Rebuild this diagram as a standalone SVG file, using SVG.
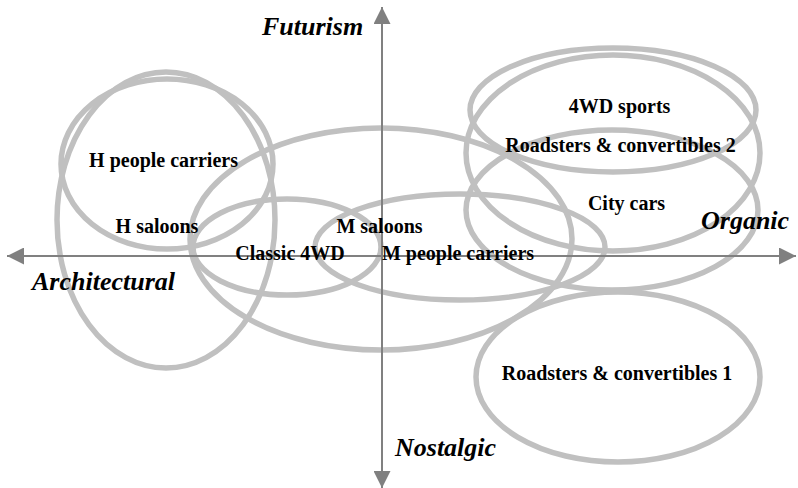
<svg xmlns="http://www.w3.org/2000/svg" width="798" height="488" viewBox="0 0 798 488">
  <style>
    .seg { fill: none; stroke: #c0c0c0; stroke-width: 5.5; }
    .axis { stroke: #808080; stroke-width: 2; fill: none; }
    .lbl { font-family: "Liberation Serif", "Times New Roman", serif; font-weight: bold; font-size: 20px; fill: #000; text-anchor: middle; }
    .pole { font-family: "Liberation Serif", "Times New Roman", serif; font-weight: bold; font-style: italic; font-size: 26px; fill: #000; }
  </style>
  <defs>
    <marker id="tip" markerUnits="userSpaceOnUse" markerWidth="17" markerHeight="17" refX="17" refY="8.5" orient="auto-start-reverse">
      <path d="M0,0 L17,8.5 L0,17 z" fill="#808080"/>
    </marker>
  </defs>
  <rect width="798" height="488" fill="#fff"/>

  <!-- market segments -->
  <g id="h-people-carriers"><ellipse class="seg" cx="167" cy="164" rx="106" ry="85"/></g>
  <g id="h-saloons"><ellipse class="seg" cx="166" cy="220" rx="109" ry="148"/></g>
  <g id="m-saloons"><ellipse class="seg" cx="381" cy="239" rx="191" ry="111"/></g>
  <g id="classic-4wd"><ellipse class="seg" cx="287" cy="247" rx="94" ry="48"/></g>
  <g id="m-people-carriers"><ellipse class="seg" cx="460" cy="247" rx="145" ry="53"/></g>
  <g id="4wd-sports"><ellipse class="seg" cx="613" cy="110" rx="143" ry="62"/></g>
  <g id="roadsters-2"><ellipse class="seg" cx="613" cy="153" rx="147" ry="98"/></g>
  <g id="city-cars"><ellipse class="seg" cx="612" cy="210" rx="146" ry="80"/></g>
  <g id="roadsters-1"><ellipse class="seg" cx="618" cy="377" rx="142" ry="85"/></g>

  <!-- axes -->
  <g id="axes">
    <line class="axis" x1="7" y1="256" x2="796" y2="256" marker-start="url(#tip)" marker-end="url(#tip)"/>
    <line class="axis" x1="382" y1="7" x2="382" y2="488" marker-start="url(#tip)" marker-end="url(#tip)"/>
  </g>

  <!-- segment labels -->
  <g id="labels">
    <text class="lbl" x="163.5" y="167">H people carriers</text>
    <text class="lbl" x="157" y="233">H saloons</text>
    <text class="lbl" x="290" y="260">Classic 4WD</text>
    <text class="lbl" x="379.5" y="233">M saloons</text>
    <text class="lbl" x="458" y="260">M people carriers</text>
    <text class="lbl" x="619.5" y="113">4WD sports</text>
    <text class="lbl" x="620.5" y="152">Roadsters &amp; convertibles 2</text>
    <text class="lbl" x="626.5" y="210">City cars</text>
    <text class="lbl" x="617" y="380">Roadsters &amp; convertibles 1</text>
  </g>

  <!-- axis poles -->
  <g id="poles">
    <text class="pole" x="262" y="35">Futurism</text>
    <text class="pole" x="32" y="290">Architectural</text>
    <text class="pole" x="395" y="456">Nostalgic</text>
    <text class="pole" x="701" y="229">Organic</text>
  </g>
</svg>
